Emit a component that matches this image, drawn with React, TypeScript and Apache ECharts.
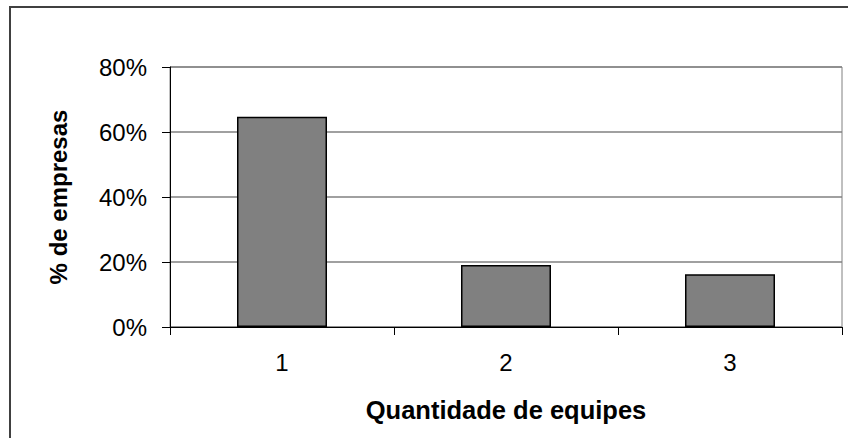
import React, { useEffect, useRef } from "react";
import * as echarts from "echarts";

const categories = ["1", "2", "3"];
const percentValues = [64.7, 19.1, 16.2];
const yTicks = [0, 20, 40, 60, 80];

export default function App() {
  const ref = useRef<HTMLDivElement>(null);
  useEffect(() => {
    if (!ref.current) return;
    const chart = echarts.init(ref.current, null, { renderer: "svg" });
    const font = "'Liberation Sans', Arial, sans-serif";
    chart.setOption({
      animation: false,
      backgroundColor: "#ffffff",
      textStyle: { fontFamily: font },
      graphic: [
        {
          type: "rect",
          shape: { x: 10, y: 7, width: 900, height: 500 },
          style: { fill: "none", stroke: "#404040", lineWidth: 2 },
          silent: true,
          z: 100,
        },
      ],
      grid: {
        left: 170,
        top: 67,
        right: 6,
        bottom: 111,
        show: true,
        borderColor: "#808080",
        borderWidth: 1,
        backgroundColor: "#ffffff",
      },
      xAxis: {
        type: "category",
        data: categories,
        name: "Quantidade de equipes",
        nameLocation: "middle",
        nameGap: 70,
        nameTextStyle: { fontSize: 25.5, fontWeight: "bold", color: "#000", fontFamily: font },
        axisLine: { lineStyle: { color: "#000", width: 1 } },
        axisTick: { show: true, length: 8, lineStyle: { color: "#000" } },
        axisLabel: { fontSize: 24, color: "#000", margin: 23, fontFamily: font },
      },
      yAxis: {
        type: "value",
        min: yTicks[0],
        max: yTicks[yTicks.length - 1],
        interval: 20,
        name: "% de empresas",
        nameLocation: "middle",
        nameGap: 100,
        nameTextStyle: { fontSize: 24, fontWeight: "bold", color: "#000", fontFamily: font },
        axisLine: { show: true, lineStyle: { color: "#000", width: 1 } },
        axisTick: { show: true, length: 8, lineStyle: { color: "#000" } },
        axisLabel: { fontSize: 24, color: "#000", margin: 23, formatter: "{value}%", fontFamily: font },
        splitLine: { show: true, lineStyle: { color: "#808080", width: 1.5 } },
      },
      series: [
        {
          type: "bar",
          data: percentValues,
          barWidth: 90,
          itemStyle: { color: "#808080", borderColor: "#000", borderWidth: 1.5 },
        },
      ],
    });
    return () => chart.dispose();
  }, []);
  return (
    <div
      ref={ref}
      style={{ position: "fixed", left: 0, top: 0, width: 848, height: 438 }}
    />
  );
}
